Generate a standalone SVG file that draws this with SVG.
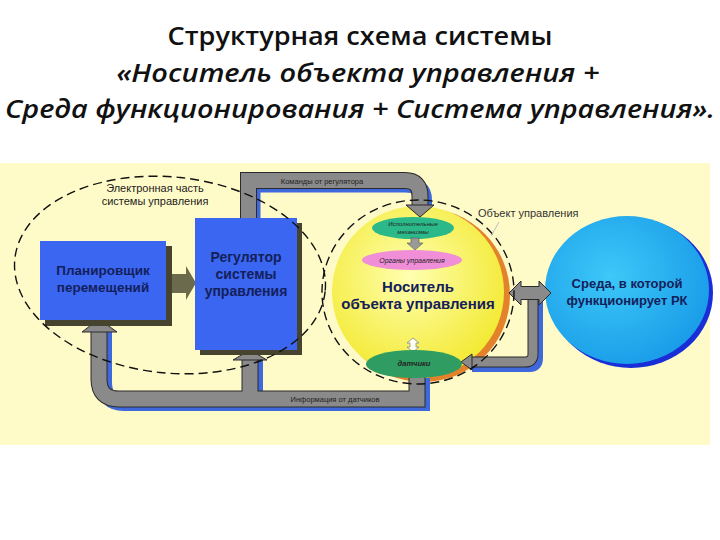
<svg xmlns="http://www.w3.org/2000/svg" width="720" height="540" viewBox="0 0 720 540">
<defs>
<style>
.title{font-family:"Open Sans","Noto Sans","Liberation Sans",sans-serif;font-size:25px;fill:#111;text-anchor:middle;font-weight:600}
.it{font-style:italic;font-weight:600}
.lbl{font-family:"Liberation Sans",Arial,sans-serif;fill:#222;text-anchor:middle}
.big{font-family:"Liberation Sans",Arial,sans-serif;font-weight:bold;text-anchor:middle;fill:#14205a}
.dash{fill:none;stroke:#111;stroke-width:1.4;stroke-dasharray:9 5}
.pshadow{fill:none;stroke:#3f68dc;stroke-linejoin:miter}
.pout{fill:none;stroke:#2a2a2a;stroke-linejoin:miter}
.pin{fill:none;stroke:#8a8a8a;stroke-linejoin:miter}
.head{fill:#8a8a8a;stroke:#2a2a2a;stroke-width:1}
.box{fill:#3a66f2}
.bshadow{fill:#46432f}
</style>
<radialGradient id="gy" cx="45%" cy="40%" r="65%">
<stop offset="0" stop-color="#ffffb0"/>
<stop offset="1" stop-color="#f2e82a"/>
</radialGradient>
<radialGradient id="gb" cx="40%" cy="40%" r="65%">
<stop offset="0" stop-color="#3cc8f8"/>
<stop offset="1" stop-color="#1a9ce8"/>
</radialGradient>
</defs>
<rect width="720" height="540" fill="#fff"/>
<g id="title">
<text class="title" x="360" y="45" textLength="385" lengthAdjust="spacingAndGlyphs">Структурная схема системы</text>
<text class="title it" x="358" y="82" textLength="483" lengthAdjust="spacingAndGlyphs">«Носитель объекта управления +</text>
<text class="title it" x="360" y="118" textLength="710" lengthAdjust="spacingAndGlyphs">Среда функционирования + Система управления».</text>
</g>
<rect x="0" y="163" width="710" height="282" fill="#fffbc8"/>

<g id="carrier">
<circle cx="423" cy="295" r="87" fill="#e3822a"/>
<circle cx="418" cy="292" r="86" fill="url(#gy)"/>
<text class="big" x="418" y="292" font-size="15" fill="#111">Носитель</text>
<text class="big" x="418" y="309" font-size="15" fill="#111">объекта управления</text>
</g>

<g id="environment">
<ellipse cx="631" cy="293" rx="82" ry="75" fill="#1a2ed8"/>
<ellipse cx="627" cy="290" rx="82" ry="74" fill="url(#gb)"/>
<text class="big" x="627" y="288" font-size="13">Среда, в которой</text>
<text class="big" x="627" y="305" font-size="13">функционирует РК</text>
</g>

<g id="connectors">
<path class="pshadow" d="M252.5 218 V184.5 H405 Q424 184.5 424 200 V205" stroke-width="16"/>
<path class="pout" d="M248.5 218 V180.5 H405 Q420 180.5 420 196 V206" stroke-width="17"/>
<path class="pin" d="M248.5 218 V180.5 H405 Q420 180.5 420 196 V206" stroke-width="15"/>
<polygon class="head" points="406,205 434,205 420,217" fill="#8a8aa8"/>
<text class="lbl" x="322" y="183.5" font-size="7.5">Команды от регулятора</text>

<path class="pshadow" d="M104 332 V382 Q104 403 124 403 H422 V378" stroke-width="16"/>
<path class="pshadow" d="M255 358 V396" stroke-width="16"/>
<path class="pout" d="M99 332 V379 Q99 399 119 399 H417 V374" stroke-width="17"/>
<path class="pout" d="M250 358 V392" stroke-width="17"/>
<path class="pin" d="M99 332 V379 Q99 399 119 399 H417 V374" stroke-width="15"/>
<path class="pin" d="M250 356 V393" stroke-width="15"/>
<polygon class="head" points="82,332 117,332 99,319"/>
<polygon class="head" points="233,360 267,360 250,350"/>
<text class="lbl" x="335" y="402" font-size="7.5">Информация от датчиков</text>

<path class="pshadow" d="M538 300 V358 Q538 367 530 367 H472" stroke-width="10"/>
<path class="pout" d="M533 300 V354 Q533 362 525 362 H471" stroke-width="11"/>
<path class="pin" d="M533 300 V354 Q533 362 525 362 H471" stroke-width="9"/>
<polygon class="head" points="472,354 472,370 461,362"/>
<polygon class="head" points="509,293 521,281 521,286.5 539,286.5 539,281 551,293 539,305 539,299.5 521,299.5 521,305"/>

<polygon points="168,274 186,274 186,266 196,283 186,300 186,293 168,293" fill="#6c6a4c"/>
</g>

<g id="planner">
<rect class="bshadow" x="45" y="246" width="127" height="80"/>
<rect class="box" x="40" y="241" width="126" height="79"/>
<text class="big" x="103" y="275" font-size="13.5">Планировщик</text>
<text class="big" x="103" y="292" font-size="13.5">перемещений</text>
</g>

<g id="regulator">
<rect class="bshadow" x="200" y="223" width="102" height="132"/>
<rect class="box" x="195" y="218" width="102" height="132"/>
<text class="big" x="246" y="262" font-size="14">Регулятор</text>
<text class="big" x="246" y="279" font-size="14">системы</text>
<text class="big" x="246" y="296" font-size="14">управления</text>
</g>

<g id="actuators">
<ellipse cx="413" cy="228" rx="41" ry="11" fill="#2bb98a"/>
<text class="lbl" x="413" y="226" font-size="6" font-style="italic" fill="#333">Исполнительные</text>
<text class="lbl" x="413" y="234" font-size="6" font-style="italic" fill="#333">механизмы</text>
<polygon points="411,238 419,238 419,243 423,243 415,250 407,243 411,243" fill="#9a9a9a" stroke="#555" stroke-width="0.6"/>
</g>

<g id="controls">
<ellipse cx="412" cy="260" rx="50" ry="10" fill="#f08ed8"/>
<text class="lbl" x="412" y="262.5" font-size="7" font-style="italic" fill="#222">Органы управления</text>
</g>

<g id="sensors">
<polygon points="413,338 419,343 416,343 416,347 419,347 413,352 407,347 410,347 410,343 407,343" fill="#fffff4" stroke="#888" stroke-width="0.8"/>
<ellipse cx="414" cy="364" rx="48" ry="14" fill="#2f9c62"/>
<text class="lbl" x="414" y="366" font-size="7.5" font-style="italic" font-weight="bold" fill="#1a1a1a">датчики</text>
</g>

<g id="electronic-part">
<ellipse class="dash" cx="170" cy="275" rx="156" ry="98" transform="rotate(6 170 275)"/>
<text class="lbl" x="155" y="192" font-size="11" fill="#333">Электронная часть</text>
<text class="lbl" x="155" y="205" font-size="11" fill="#333">системы управления</text>
</g>

<g id="control-object">
<ellipse class="dash" cx="418" cy="292" rx="96" ry="92"/>
<line x1="499" y1="222" x2="491" y2="236" stroke="#bbb" stroke-width="1"/>
<text x="478" y="217" font-family="Liberation Sans,Arial,sans-serif" font-size="11" fill="#333">Объект управления</text>
</g>
</svg>
